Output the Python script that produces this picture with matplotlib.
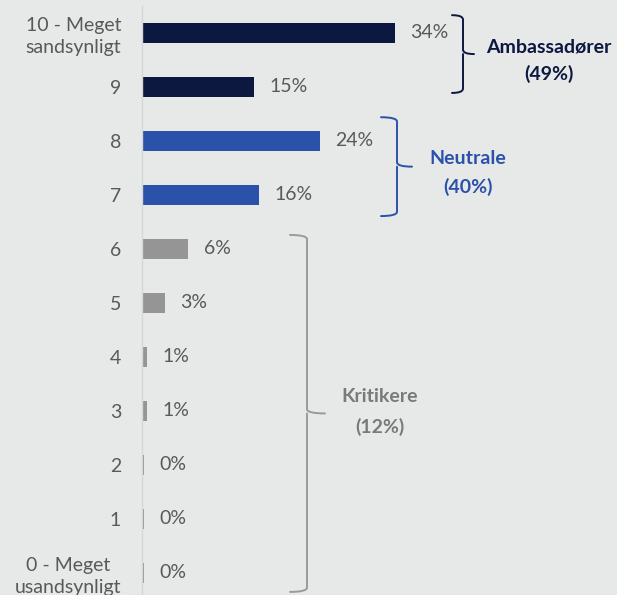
import matplotlib
matplotlib.use("Agg")
import matplotlib.pyplot as plt
from matplotlib.path import Path
from matplotlib.patches import PathPatch

# ---- data ----
categories = ["10 - Meget\nsandsynligt", "9", "8", "7", "6", "5", "4", "3", "2", "1",
              "0 - Meget\nusandsynligt"]
values = [33.9, 15.0, 23.8, 15.7, 6.2, 3.1, 0.7, 0.7, 0.3, 0.3, 0.3]
value_labels = ["34%", "15%", "24%", "16%", "6%", "3%", "1%", "1%", "0%", "0%", "0%"]
group_names = ["Ambassadører", "Neutrale", "Kritikere"]
group_shares = ["(49%)", "(40%)", "(12%)"]
group_members = [[0, 1], [2, 3], [4, 5, 6, 7, 8, 9, 10]]

# ---- style ----
BG = "#e7e8e8"
NAVY = "#0c1840"
BLUE = "#2b52aa"
GREY = "#959595"
TXT = "#595959"
group_colors = [NAVY, BLUE, GREY]
group_text_colors = [NAVY, BLUE, "#7a7a7a"]
bracket_colors = [NAVY, BLUE, "#9a9a9a"]
FS = 14

plt.rcParams['font.family'] = ['Lato', 'DejaVu Sans']

W, H = 617, 595
fig = plt.figure(figsize=(W / 100, H / 100), dpi=100, facecolor=BG)
ax_left, ax_top, ax_bottom = 142, 6, 600
ax = fig.add_axes([ax_left / W, (H - ax_bottom) / H, (W - ax_left) / W,
                   (ax_bottom - ax_top) / H])
ax.set_facecolor(BG)

n = len(categories)
ypos = [n - 1 - i for i in range(n)]
bar_colors = []
for i in range(n):
    for g, mem in enumerate(group_members):
        if i in mem:
            bar_colors.append(group_colors[g])
ax.barh(ypos, values, height=0.37, color=bar_colors, zorder=2)

for y, v, lab in zip(ypos, values, value_labels):
    ax.annotate(lab, xy=(v, y), xytext=(11, 0), textcoords="offset points",
                ha="left", va="center", fontsize=FS, color=TXT)

ax.set_xlim(0, (W - ax_left) / 7.47)
ax.set_ylim(-0.5, n - 0.5)
ax.set_yticks(ypos)
ax.set_yticklabels(categories, fontsize=FS, color=TXT, multialignment="center",
                   linespacing=1.3)
ax.tick_params(axis="y", length=0, pad=15)
ax.set_xticks([])
for s in ["top", "right", "bottom"]:
    ax.spines[s].set_visible(False)
ax.spines["left"].set_color("#d5d6d6")
ax.spines["left"].set_linewidth(1)

# bracket geometry in pixel-derived data units
px = 1 / 7.47
py = 1 / 54
bracket_geom = [
    dict(x=(463 - 142) * px, arm=11 * px, tip=11 * px, top_ext=0.33, bot_ext=0.11,
         tx=(549 - 142) * px, ty1=(573 - 47) * py, ty2=(573 - 74) * py),
    dict(x=(397 - 142) * px, arm=16 * px, tip=15 * px, top_ext=0.44, bot_ext=0.39,
         tx=(468 - 142) * px, ty1=(573 - 158) * py, ty2=(573 - 187) * py),
    dict(x=(307 - 142) * px, arm=17 * px, tip=18 * px, top_ext=0.26, bot_ext=0.35,
         tx=(380 - 142) * px, ty1=(573 - 397) * py, ty2=(573 - 427) * py),
]
for g, mem in enumerate(group_members):
    geo = bracket_geom[g]
    top = ypos[mem[0]] + geo["top_ext"]
    bot = ypos[mem[-1]] - geo["bot_ext"]
    mid = (top + bot) / 2
    x = geo["x"]
    r = 0.08
    verts = [(x - geo["arm"], top), (x, top), (x, top - r),
             (x, mid + r), (x, mid), (x + geo["tip"], mid),
             (x, mid), (x, mid - r),
             (x, bot + r), (x, bot), (x - geo["arm"], bot)]
    codes = [Path.MOVETO, Path.CURVE3, Path.CURVE3,
             Path.LINETO, Path.CURVE3, Path.CURVE3,
             Path.MOVETO, Path.LINETO,
             Path.LINETO, Path.CURVE3, Path.CURVE3]
    ax.add_patch(PathPatch(Path(verts, codes), fill=False, edgecolor=bracket_colors[g],
                           linewidth=1.4, capstyle="round", joinstyle="round",
                           clip_on=False, zorder=3))
    ax.text(geo["tx"], geo["ty1"], group_names[g], ha="center", va="center",
            fontsize=FS, fontweight="bold", color=group_text_colors[g])
    ax.text(geo["tx"], geo["ty2"], group_shares[g], ha="center", va="center",
            fontsize=FS, fontweight="bold", color=group_text_colors[g])

fig.savefig("out.png", dpi=100, facecolor=BG)
